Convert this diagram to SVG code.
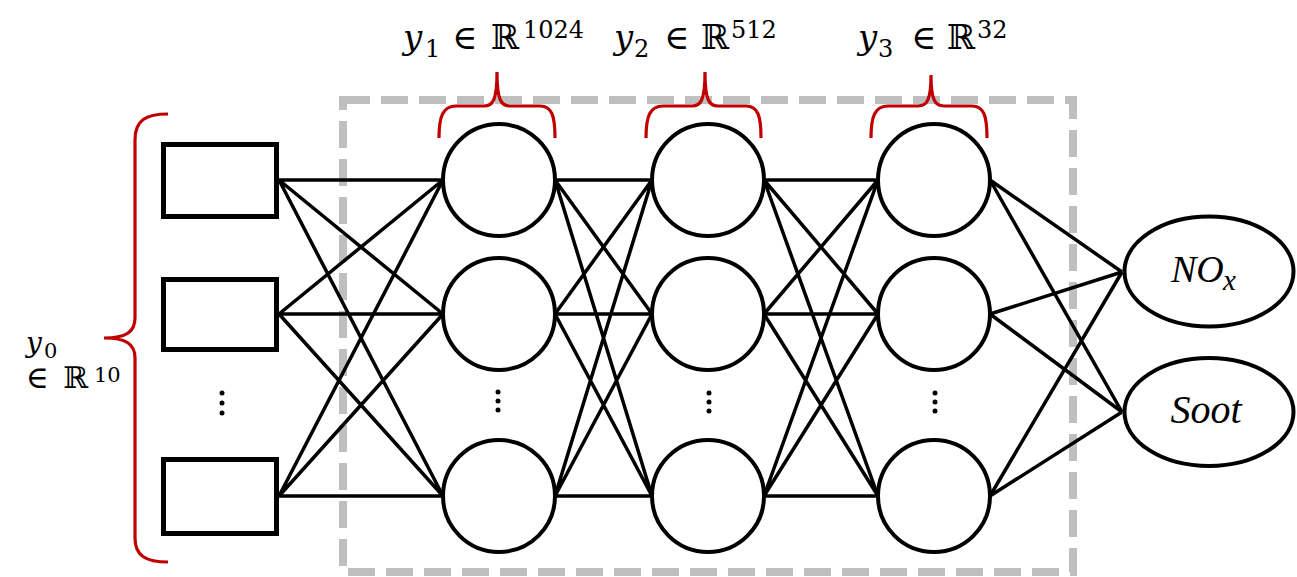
<svg xmlns="http://www.w3.org/2000/svg" width="1297" height="577" viewBox="0 0 1297 577">
<style>
.ln{stroke:#000;stroke-width:3.5;fill:none}
.nd{stroke:#000;stroke-width:4;fill:#fff}
.in{stroke:#000;stroke-width:5;fill:#fff}
.br{stroke:#c00000;stroke-width:3.2;fill:none}
.box{stroke:#bfbfbf;stroke-width:8;fill:none;stroke-dasharray:27 11}
.t{font-family:"DejaVu Serif","Liberation Serif",serif;fill:#000}
.o{font-family:"Liberation Serif","DejaVu Serif",serif;font-style:italic;fill:#000}
.i{font-style:italic}
.dot{fill:#000}
</style>
<rect id="hidden-box" class="box" x="343" y="100" width="730" height="472"/>
<g id="connectors">
<path class="ln" d="M279,180L443,180M279,180L443,314M279,180L443,496M279,314L443,180M279,314L443,314M279,314L443,496M279,496L443,180M279,496L443,314M279,496L443,496"/>
<path class="ln" d="M555,180L652,180M555,180L652,314M555,180L652,496M555,314L652,180M555,314L652,314M555,314L652,496M555,496L652,180M555,496L652,314M555,496L652,496"/>
<path class="ln" d="M764,180L878,180M764,180L878,314M764,180L878,496M764,314L878,180M764,314L878,314M764,314L878,496M764,496L878,180M764,496L878,314M764,496L878,496"/>
<path class="ln" d="M990,180L1122,272M990,180L1122,412M990,314L1122,272M990,314L1122,412M990,496L1122,272M990,496L1122,412"/>
</g>
<g id="input-1"><rect class="in" x="163.5" y="144.5" width="113" height="72"/></g>
<g id="input-2"><rect class="in" x="163.5" y="279.5" width="113" height="70"/></g>
<g id="input-3"><rect class="in" x="163.5" y="459.5" width="113" height="74"/></g>
<g id="input-dots"><circle class="dot" cx="222" cy="393" r="2.5"/><circle class="dot" cx="222" cy="403" r="2.5"/><circle class="dot" cx="222" cy="413" r="2.5"/></g>
<g id="l1-1"><circle class="nd" cx="499" cy="180" r="56"/></g>
<g id="l1-2"><circle class="nd" cx="499" cy="314" r="56"/></g>
<g id="l1-3"><circle class="nd" cx="499" cy="496" r="56"/></g>
<g id="l1-dots"><circle class="dot" cx="498" cy="392" r="2.5"/><circle class="dot" cx="498" cy="401" r="2.5"/><circle class="dot" cx="498" cy="410" r="2.5"/></g>
<g id="l2-1"><circle class="nd" cx="708" cy="180" r="56"/></g>
<g id="l2-2"><circle class="nd" cx="708" cy="314" r="56"/></g>
<g id="l2-3"><circle class="nd" cx="708" cy="496" r="56"/></g>
<g id="l2-dots"><circle class="dot" cx="709" cy="393" r="2.5"/><circle class="dot" cx="709" cy="402" r="2.5"/><circle class="dot" cx="709" cy="411" r="2.5"/></g>
<g id="l3-1"><circle class="nd" cx="934" cy="180" r="56"/></g>
<g id="l3-2"><circle class="nd" cx="934" cy="314" r="56"/></g>
<g id="l3-3"><circle class="nd" cx="934" cy="496" r="56"/></g>
<g id="l3-dots"><circle class="dot" cx="935" cy="393" r="2.5"/><circle class="dot" cx="935" cy="402" r="2.5"/><circle class="dot" cx="935" cy="411" r="2.5"/></g>
<g id="out-nox"><ellipse class="nd" cx="1209" cy="271.5" rx="84.5" ry="55"/>
<text class="o" x="1171" y="282" font-size="38">NO</text><text class="o" x="1223" y="290" font-size="29">x</text></g>
<g id="out-soot"><ellipse class="nd" cx="1209" cy="412" rx="84.5" ry="54"/>
<text class="o" x="1206" y="423" font-size="40" text-anchor="middle">Soot</text></g>
<g id="brace-y0"><path class="br" d="M168,114C146,114 135,120 135,140L135,318C135,332 126,338 104,338C126,338 135,344 135,358L135,538C135,556 146,562 168,562"/></g>
<g id="brace-y1"><path class="br" d="M439,138C439,116 443,106 456,106L484,106C493,106 497,100 497,72C497,100 501,106 510,106L540,106C552,106 555,116 555,138"/></g>
<g id="brace-y2"><path class="br" d="M646,138C646,116 650,106 663,106L692,106C701,106 705,100 705,72C705,100 709,106 718,106L746,106C758,106 761,116 761,138"/></g>
<g id="brace-y3"><path class="br" d="M871,138C871,116 875,106 888,106L918,106C927,106 931,100 931,75C931,100 935,106 944,106L972,106C984,106 987,116 987,138"/></g>
<g id="label-y0">
<text class="t i" x="26" y="352" font-size="28">y</text><text class="t" x="44" y="358" font-size="21">0</text>
<text class="t" x="26" y="388" font-size="31">∈</text><text class="t" x="63" y="388" font-size="30">ℝ</text><text class="t" x="94" y="382" font-size="21">10</text>
</g>
<g id="label-y1">
<text class="t i" x="403" y="49" font-size="34">y</text><text class="t" x="425" y="57" font-size="24">1</text>
<text class="t" x="452" y="49" font-size="34">∈</text><text class="t" x="491" y="49" font-size="34">ℝ</text><text class="t" x="523" y="38" font-size="24">1024</text>
</g>
<g id="label-y2">
<text class="t i" x="614" y="49" font-size="34">y</text><text class="t" x="634" y="57" font-size="24">2</text>
<text class="t" x="664" y="49" font-size="34">∈</text><text class="t" x="701" y="49" font-size="34">ℝ</text><text class="t" x="731" y="38" font-size="24">512</text>
</g>
<g id="label-y3">
<text class="t i" x="858" y="49" font-size="34">y</text><text class="t" x="878" y="57" font-size="24">3</text>
<text class="t" x="911" y="49" font-size="34">∈</text><text class="t" x="947" y="49" font-size="34">ℝ</text><text class="t" x="977" y="38" font-size="24">32</text>
</g>
</svg>
